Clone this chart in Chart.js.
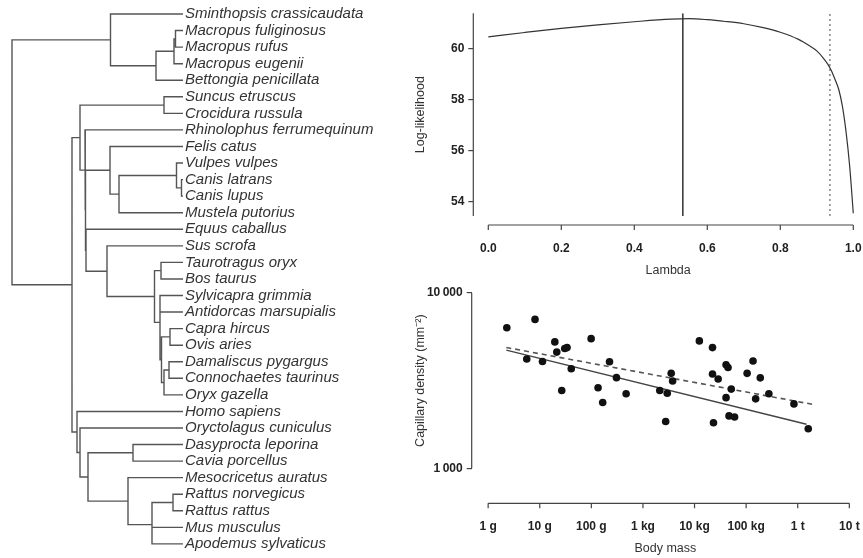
<!DOCTYPE html>
<html>
<head>
<meta charset="utf-8">
<script src="https://cdn.jsdelivr.net/npm/chart.js@4"></script>
<style>
  body { margin: 0; background: #fff; }
  #wrap { position: relative; width: 863px; height: 558px; overflow: hidden; }
  canvas { position: absolute; }
</style>
</head>
<body>
<div id="wrap">
  <canvas id="tree" width="400" height="558" style="left:0;top:0"></canvas>
  <canvas id="lik" width="463" height="282" style="left:400px;top:0"></canvas>
  <canvas id="mass" width="463" height="276" style="left:400px;top:282px"></canvas>
</div>
<script>
// phylogeny, internal node labels = distance from root (tips at tipDepth)
const tipDepth = 171;
const treeNewick = `
(
  (Sminthopsis_crassicaudata,
    (((Macropus_fuliginosus,Macropus_rufus)163.5,Macropus_eugenii)162,Bettongia_penicillata)144
  )98.5,
  (
    ((Suncus_etruscus,Crocidura_russula)152,
      (Rhinolophus_ferrumequinum,
        ((Felis_catus,((Vulpes_vulpes,(Canis_latrans,Canis_lupus)169.5)164.5,Mustela_putorius)107)98,
          (Equus_caballus,
            (Sus_scrofa,
              ((Taurotragus_oryx,Bos_taurus)149,
                (Sylvicapra_grimmia,Antidorcas_marsupialis,
                  ((Capra_hircus,Ovis_aries)158,((Damaliscus_pygargus,Connochaetes_taurinus)157,Oryx_gazella)152)149.5
                )148
              )142.5
            )95
          )74
        )73.5
      )73
    )68,
    (Homo_sapiens,
      (Oryctolagus_cuniculus,
        ((Dasyprocta_leporina,Cavia_porcellus)121,
          (Mesocricetus_auratus,((Rattus_norvegicus,Rattus_rattus)161,Mus_musculus,Apodemus_sylvaticus)140)116
        )76
      )68
    )65
  )60
)0`;

// likelihood profile for lambda
const lambdaGrid = [0, 0.1, 0.2, 0.3, 0.4, 0.5, 0.55, 0.6, 0.65, 0.7, 0.75, 0.8, 0.85, 0.88, 0.9, 0.92, 0.93, 0.94, 0.95, 0.96, 0.97, 0.98, 0.99, 1.0];
const logLik = [60.45, 60.62, 60.78, 60.92, 61.04, 61.14, 61.16, 61.12, 61.05, 60.96, 60.82, 60.63, 60.35, 60.1, 59.9, 59.58, 59.38, 59.12, 58.78, 58.4, 57.75, 56.75, 55.4, 53.55];
const lambdaML = 0.533;
const lambdaUpper = 0.936;
const llRange = [53.44, 61.37];

// capillary density vs body mass
const bodyMass = [2.3, 8.1, 5.6, 11.3, 19.6, 21.4, 30.5, 33.8, 26.7, 40.8, 99, 225, 135, 166, 307, 472,
  2120, 2960, 3530, 3760, 2760, 12400, 22300, 22300, 28700, 23300, 40800, 44600, 51500, 40800, 46600, 59700,
  104500, 136000, 188000, 153000, 276000, 844000, 1600000];
const capDensity = [6340, 7070, 4200, 4070, 5260, 4600, 4820, 4880, 2780, 3700, 5490, 4050, 2880, 2375, 3290, 2660,
  2780, 2680, 3480, 3150, 1850, 5330, 4880, 3450, 3230, 1820, 3900, 3760, 2830, 2530, 1990, 1960,
  3480, 4090, 3280, 2490, 2660, 2330, 1680];
const solidFitMass = [2.25, 1.48e6];
const solidFit = [4720, 1783];
const dashedFitMass = [2.25, 1.99e6];
const dashedFit = [4887, 2314];

const massTicks = [1, 10, 100, 1e3, 1e4, 1e5, 1e6, 1e7];
const massLabels = ["1 g", "10 g", "100 g", "1 kg", "10 kg", "100 kg", "1 t", "10 t"];
const densityTicks = [1000, 10000];
const densityLabels = ["1\u2009000", "10\u2009000"];

Chart.defaults.font.family = "'Liberation Sans', Arial, sans-serif";
Chart.defaults.color = "#222";

function parseNewick(str) {
  const s = str.replace(/\s+/g, "");
  let i = 0;
  function label() {
    const m = /^[^,();]*/.exec(s.slice(i))[0];
    i += m.length;
    return m;
  }
  function node() {
    if (s[i] === "(") {
      i++;
      const kids = [node()];
      while (s[i] === ",") { i++; kids.push(node()); }
      i++;
      return { kids: kids, depth: parseFloat(label()) };
    }
    return { name: label().replace(/_/g, " "), depth: tipDepth };
  }
  return node();
}

const tree = parseNewick(treeNewick);
const tipNames = [];
function place(n) {
  if (!n.kids) {
    n.y = tipNames.length;
    tipNames.push(n.name);
    return n.y;
  }
  n.y = n.kids.map(place).reduce((a, b) => a + b, 0) / n.kids.length;
  return n.y;
}
place(tree);

// elbow segments, broken with null points
const treeSegments = [];
function edges(n) {
  if (!n.kids) return;
  const first = n.kids[0];
  const last = n.kids[n.kids.length - 1];
  treeSegments.push({ x: first.depth, y: first.y }, { x: n.depth, y: first.y },
    { x: n.depth, y: last.y }, { x: last.depth, y: last.y }, { x: n.depth, y: null });
  n.kids.slice(1, -1).forEach((k) => {
    treeSegments.push({ x: n.depth, y: k.y }, { x: k.depth, y: k.y }, { x: n.depth, y: null });
  });
  n.kids.forEach(edges);
}
edges(tree);

// R style detached x axis + y axis line over a given range
const rAxis = {
  id: "rAxis",
  afterDraw(chart, args, opts) {
    const { ctx, chartArea } = chart;
    const xs = chart.scales.x;
    const ys = chart.scales.y;
    const yLine = chartArea.bottom + opts.gap;
    const px = xs.ticks.map((t) => xs.getPixelForValue(t.value));
    ctx.save();
    ctx.strokeStyle = "#444";
    ctx.lineWidth = 1.2;
    ctx.beginPath();
    ctx.moveTo(px[0], yLine);
    ctx.lineTo(px[px.length - 1], yLine);
    px.forEach((p) => { ctx.moveTo(p, yLine); ctx.lineTo(p, yLine + 5); });
    ctx.moveTo(chartArea.left, ys.getPixelForValue(opts.yFrom));
    ctx.lineTo(chartArea.left, ys.getPixelForValue(opts.yTo));
    ctx.stroke();
    ctx.restore();
  },
};

const tickFont = { size: 12, weight: "bold" };
const titleFont = { size: 12.5 };

new Chart(document.getElementById("tree"), {
  type: "scatter",
  data: {
    datasets: [{
      data: treeSegments,
      showLine: true,
      spanGaps: false,
      pointRadius: 0,
      borderColor: "#555",
      borderWidth: 1.4,
      clip: 4,
    }],
  },
  options: {
    responsive: false,
    animation: false,
    events: [],
    layout: { padding: { left: 12, top: 14, bottom: 14.1, right: 0 } },
    plugins: { legend: { display: false }, tooltip: { enabled: false } },
    scales: {
      x: { type: "linear", display: false, min: 0, max: tipDepth },
      y: {
        type: "linear",
        position: "right",
        reverse: true,
        min: 0,
        max: tipNames.length - 1,
        grid: { display: false, drawTicks: false },
        border: { display: false },
        ticks: {
          stepSize: 1,
          autoSkip: false,
          padding: 2,
          color: "#333",
          font: { size: 15, style: "italic" },
          callback: (v) => tipNames[v],
        },
        afterFit: (s) => { s.width = 217; s.paddingTop = 0; s.paddingBottom = 0; },
      },
    },
  },
});

new Chart(document.getElementById("lik"), {
  type: "scatter",
  data: {
    datasets: [
      {
        data: lambdaGrid.map((l, i) => ({ x: l, y: logLik[i] })),
        showLine: true,
        pointRadius: 0,
        borderColor: "#333",
        borderWidth: 1.2,
        cubicInterpolationMode: "monotone",
      },
      {
        data: [{ x: lambdaML, y: llRange[0] }, { x: lambdaML, y: llRange[1] }],
        showLine: true,
        pointRadius: 0,
        borderColor: "#222",
        borderWidth: 1.4,
      },
      {
        data: [{ x: lambdaUpper, y: llRange[0] }, { x: lambdaUpper, y: llRange[1] }],
        showLine: true,
        pointRadius: 0,
        borderColor: "#666",
        borderWidth: 1.2,
        borderDash: [2, 3],
      },
    ],
  },
  options: {
    responsive: false,
    animation: false,
    events: [],
    layout: { padding: { left: 0, top: 13.3, bottom: 0, right: 0 } },
    plugins: {
      legend: { display: false },
      tooltip: { enabled: false },
      rAxis: { gap: 9, yFrom: llRange[0], yTo: llRange[1] },
    },
    scales: {
      x: {
        type: "linear",
        min: -0.0411,
        max: 1.0266,
        grid: { display: false, drawTicks: false },
        border: { display: false },
        ticks: {
          stepSize: 0.2,
          includeBounds: false,
          autoSkip: false,
          maxRotation: 0,
          padding: 25,
          font: tickFont,
          callback: (v) => v.toFixed(1),
        },
        title: { display: true, text: "Lambda", color: "#333", font: titleFont, padding: { top: 0, bottom: 3.8 } },
        afterFit: (s) => { s.height = 66; s.paddingLeft = 0; s.paddingRight = 0; },
      },
      y: {
        type: "linear",
        min: llRange[0],
        max: llRange[1],
        grid: { drawOnChartArea: false, tickLength: 5, color: "#444", lineWidth: 1.2 },
        border: { display: false },
        ticks: { stepSize: 2, includeBounds: false, padding: 4, font: tickFont },
        title: { display: true, text: "Log-likelihood", color: "#333", font: titleFont, padding: { top: 13.2, bottom: 0 } },
        afterFit: (s) => { s.width = 73.3; s.paddingTop = 0; s.paddingBottom = 0; },
      },
    },
  },
  plugins: [rAxis],
});

new Chart(document.getElementById("mass"), {
  type: "scatter",
  data: {
    datasets: [
      {
        data: bodyMass.map((m, i) => ({ x: m, y: capDensity[i] })),
        pointRadius: 3.8,
        pointBackgroundColor: "#111",
        pointBorderColor: "#111",
        pointBorderWidth: 0,
      },
      {
        data: solidFitMass.map((m, i) => ({ x: m, y: solidFit[i] })),
        showLine: true,
        pointRadius: 0,
        borderColor: "#444",
        borderWidth: 1.4,
      },
      {
        data: dashedFitMass.map((m, i) => ({ x: m, y: dashedFit[i] })),
        showLine: true,
        pointRadius: 0,
        borderColor: "#555",
        borderWidth: 1.6,
        borderDash: [5, 4],
      },
    ],
  },
  options: {
    responsive: false,
    animation: false,
    events: [],
    layout: { padding: { left: 0, top: 2.6, bottom: 0, right: 0 } },
    plugins: {
      legend: { display: false },
      tooltip: { enabled: false },
      rAxis: { gap: 28, yFrom: densityTicks[0], yTo: densityTicks[1] },
    },
    scales: {
      x: {
        type: "logarithmic",
        min: 0.48,
        max: 1.54e7,
        grid: { display: false, drawTicks: false },
        border: { display: false },
        afterBuildTicks: (s) => { s.ticks = massTicks.map((v) => ({ value: v })); },
        ticks: {
          autoSkip: false,
          maxRotation: 0,
          padding: 44,
          font: tickFont,
          callback: (v, i) => massLabels[i],
        },
        title: { display: true, text: "Body mass", color: "#333", font: titleFont, padding: { top: 0, bottom: 2.2 } },
        afterFit: (s) => { s.height = 82.7; s.paddingLeft = 0; s.paddingRight = 0; },
      },
      y: {
        type: "logarithmic",
        min: 912,
        max: 10965,
        grid: { drawOnChartArea: false, tickLength: 5, color: "#444", lineWidth: 1.2 },
        border: { display: false },
        afterBuildTicks: (s) => { s.ticks = densityTicks.map((v) => ({ value: v })); },
        ticks: { autoSkip: false, padding: 4, font: tickFont, callback: (v, i) => densityLabels[i] },
        title: { display: true, text: "Capillary density (mm\u207B\u00B2)", color: "#333", font: titleFont, padding: { top: 13.2, bottom: 0 } },
        afterFit: (s) => { s.width = 71.7; s.paddingTop = 0; s.paddingBottom = 0; },
      },
    },
  },
  plugins: [rAxis],
});
</script>
</body>
</html>
